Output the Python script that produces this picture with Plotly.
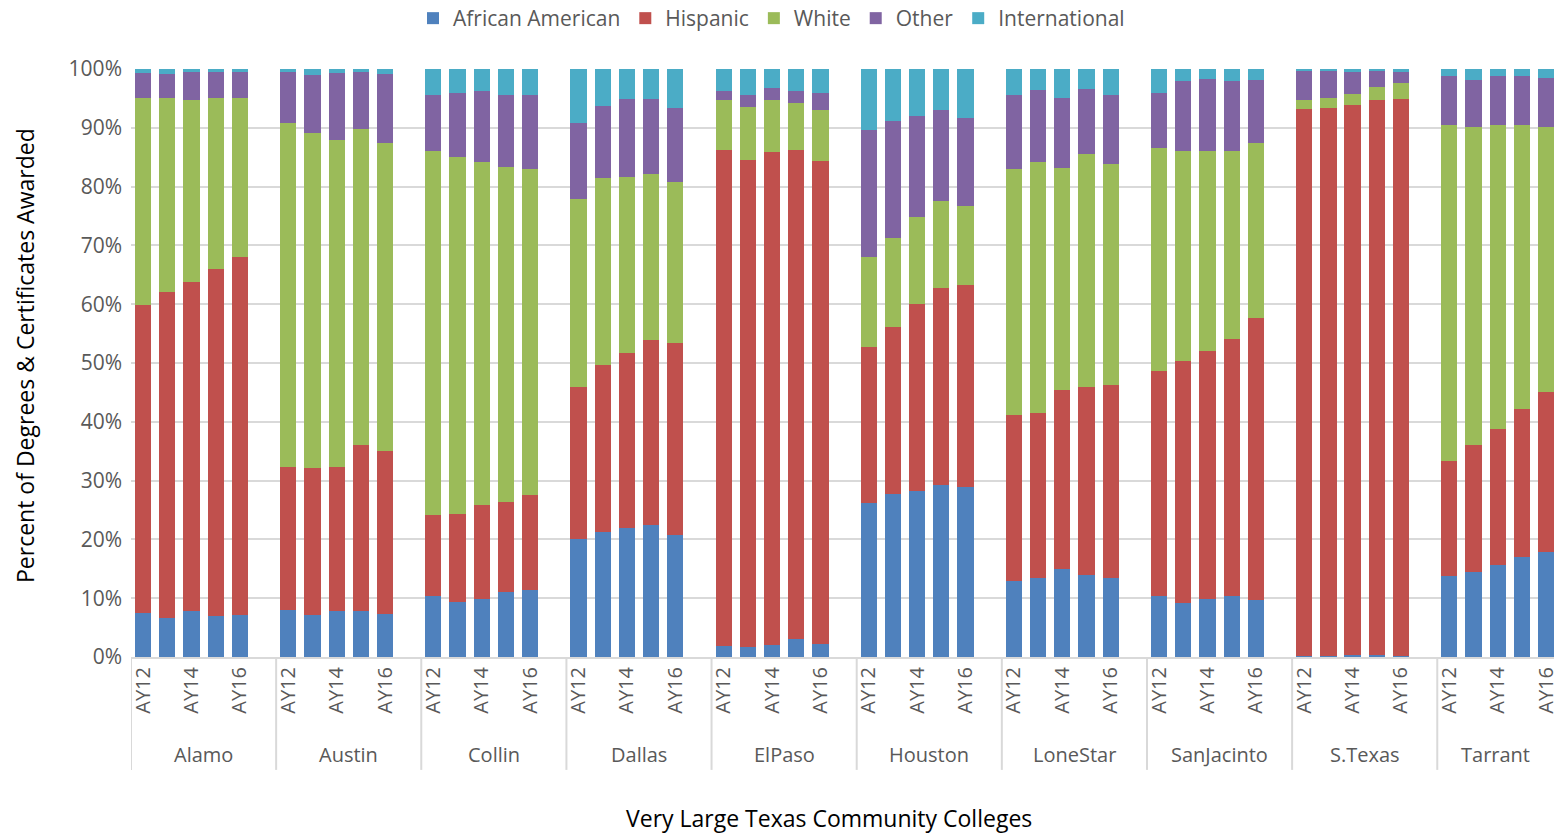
import plotly.graph_objects as go

colleges = ["Alamo", "Austin", "Collin", "Dallas", "ElPaso", "Houston",
            "LoneStar", "SanJacinto", "S.Texas", "Tarrant"]
years = ["AY12", "AY13", "AY14", "AY15", "AY16"]
labeled_years = ["AY12", "AY14", "AY16"]

african_american = [
    [7.4, 6.6, 7.9, 7.0, 7.2],
    [8.0, 7.1, 7.9, 7.9, 7.3],
    [10.3, 9.3, 9.9, 11.1, 11.4],
    [20.1, 21.3, 21.9, 22.5, 20.8],
    [1.8, 1.7, 2.0, 3.0, 2.2],
    [26.2, 27.7, 28.2, 29.2, 28.9],
    [12.9, 13.4, 15.0, 14.0, 13.5],
    [10.3, 9.1, 9.8, 10.3, 9.7],
    [0.1, 0.1, 0.3, 0.3, 0.2],
    [13.7, 14.4, 15.7, 17.0, 17.9],
]
hispanic = [
    [52.5, 55.4, 55.8, 59.0, 60.9],
    [24.3, 25.1, 24.4, 28.1, 27.7],
    [13.9, 15.1, 15.9, 15.2, 16.1],
    [25.9, 28.4, 29.8, 31.4, 32.6],
    [84.4, 82.8, 83.9, 83.2, 82.1],
    [26.6, 28.4, 31.8, 33.6, 34.3],
    [28.2, 28.1, 30.4, 32.0, 32.8],
    [38.3, 41.2, 42.3, 43.8, 48.0],
    [93.1, 93.3, 93.5, 94.4, 94.7],
    [19.7, 21.6, 23.0, 25.1, 27.1],
]
white = [
    [35.2, 33.0, 31.1, 29.0, 27.0],
    [58.6, 57.0, 55.6, 53.8, 52.5],
    [61.8, 60.6, 58.4, 57.1, 55.5],
    [31.9, 31.8, 30.0, 28.2, 27.3],
    [8.6, 9.1, 8.9, 8.1, 8.7],
    [15.3, 15.2, 14.8, 14.7, 13.5],
    [41.9, 42.7, 37.8, 39.6, 37.5],
    [38.0, 35.8, 34.0, 32.0, 29.7],
    [1.5, 1.6, 2.0, 2.3, 2.7],
    [57.0, 54.2, 51.8, 48.3, 45.2],
]
other = [
    [4.2, 4.1, 4.7, 4.5, 4.4],
    [8.6, 9.7, 11.4, 9.7, 11.7],
    [9.6, 10.9, 12.0, 12.1, 12.6],
    [13.0, 12.2, 13.2, 12.8, 12.7],
    [1.5, 2.0, 1.9, 1.9, 3.0],
    [21.5, 19.9, 17.2, 15.5, 15.0],
    [12.6, 12.2, 11.9, 11.0, 11.8],
    [9.3, 11.8, 12.2, 11.9, 10.7],
    [5.1, 4.6, 3.7, 2.6, 1.9],
    [8.4, 8.0, 8.3, 8.4, 8.3],
]
international = [
    [0.7, 0.9, 0.5, 0.5, 0.5],
    [0.5, 1.1, 0.7, 0.5, 0.8],
    [4.4, 4.1, 3.8, 4.5, 4.4],
    [9.1, 6.3, 5.1, 5.1, 6.6],
    [3.7, 4.4, 3.3, 3.8, 4.0],
    [10.4, 8.8, 8.0, 7.0, 8.3],
    [4.4, 3.6, 4.9, 3.4, 4.4],
    [4.1, 2.1, 1.7, 2.0, 1.9],
    [0.2, 0.4, 0.5, 0.4, 0.5],
    [1.2, 1.8, 1.2, 1.2, 1.5],
]

series = [
    ("African American", african_american, "#4f81bd"),
    ("Hispanic", hispanic, "#c0504d"),
    ("White", white, "#9bbb59"),
    ("Other", other, "#8064a2"),
    ("International", international, "#4bacc6"),
]

FONT = "Open Sans, Lato, sans-serif"
TXT = "#595959"
GRID = "#d9d9d9"
SLOTS = len(years) + 1  # 5 bars + one empty slot per college
SLOT_PX = 24.19
XMIN = -0.5
XMAX = -0.5 + 1423 / SLOT_PX

xpos = [ci * SLOTS + yi for ci in range(len(colleges)) for yi in range(len(years))]

fig = go.Figure()
for name, vals, color in series:
    flat = [v for row in vals for v in row]
    fig.add_trace(go.Bar(
        x=xpos, y=flat, name=name, width=0.67,
        marker=dict(color=color, line=dict(width=0)),
    ))

tickvals = [ci * SLOTS + years.index(y) for ci in range(len(colleges)) for y in labeled_years]
ticktext = [y for ci in range(len(colleges)) for y in labeled_years]

shapes = []
for ci in range(len(colleges)):
    shapes.append(dict(type="line", xref="x", yref="paper",
                       x0=ci * SLOTS - 0.5, x1=ci * SLOTS - 0.5,
                       y0=0, y1=-0.192, line=dict(color=GRID, width=2)))

annotations = []
for ci, c in enumerate(colleges):
    g0 = ci * SLOTS - 0.5
    g1 = min(g0 + SLOTS, XMAX)
    annotations.append(dict(x=(g0 + g1) / 2, y=-0.165,
                            xref="x", yref="paper", text=c, showarrow=False,
                            yanchor="middle", font=dict(family=FONT, size=20, color=TXT)))
annotations.append(dict(x=(829 - 131) / 1423, y=-0.274, xref="paper", yref="paper",
                        text="Very Large Texas Community Colleges", showarrow=False,
                        yanchor="middle", font=dict(family=FONT, size=23, color="#000000")))
annotations.append(dict(x=-0.0745, y=(657 - 355) / 588, xref="paper", yref="paper",
                        text="Percent of Degrees & Certificates Awarded", showarrow=False,
                        textangle=-90, xanchor="center", yanchor="middle",
                        font=dict(family=FONT, size=23, color="#000000")))

fig.update_layout(
    width=1554, height=835,
    margin=dict(l=131, r=0, t=69, b=178, autoexpand=False),
    barmode="stack",
    bargap=0,
    plot_bgcolor="white", paper_bgcolor="white",
    font=dict(family=FONT, size=21, color=TXT),
    showlegend=True,
    legend=dict(orientation="h", x=(413 - 131) / 1423, y=(657 + 2) / 588,
                xanchor="left", yanchor="top",
                font=dict(family=FONT, size=21, color=TXT), itemsizing="constant",
                traceorder="normal", itemwidth=30),
    shapes=shapes,
    annotations=annotations,
    xaxis=dict(range=[XMIN, XMAX], tickvals=tickvals, ticktext=ticktext,
               tickangle=-90, showgrid=False, zeroline=False, showline=True,
               linecolor=GRID, linewidth=2, ticks="", automargin=False,
               ticklabeloverflow="allow",
               tickfont=dict(family=FONT, size=20, color=TXT)),
    yaxis=dict(range=[0, 100], tickvals=list(range(0, 101, 10)),
               ticktext=[f"{v}%" for v in range(0, 101, 10)],
               showgrid=True, gridcolor=GRID, gridwidth=2, zeroline=False,
               showline=False, ticks="", ticklabelstandoff=8, automargin=False,
               tickfont=dict(family=FONT, size=21, color=TXT)),
)

fig.write_html("out.html", config={"displayModeBar": False},
               post_script="document.body.style.margin='0px';document.body.style.overflow='hidden';")
